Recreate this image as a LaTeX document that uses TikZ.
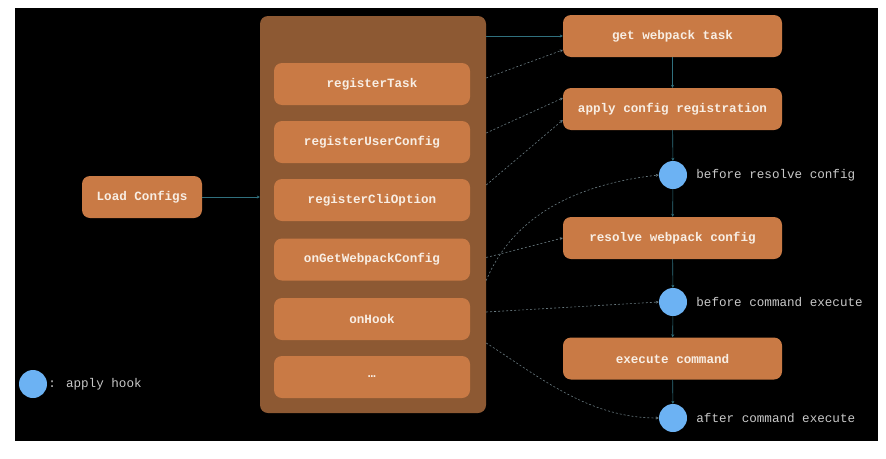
\documentclass[tikz,border=0pt]{standalone}
\usepackage{fontspec}
\usetikzlibrary{arrows.meta,calc}
\newfontfamily\codefont{Liberation Mono}
\definecolor{boxorange}{RGB}{201,122,69}
\definecolor{panelbrown}{RGB}{141,89,51}
\definecolor{hookblue}{RGB}{108,178,243}
\definecolor{flowteal}{RGB}{48,112,126}
\definecolor{dashgray}{RGB}{105,122,128}
\definecolor{labelgray}{RGB}{200,200,200}
\definecolor{boxtext}{RGB}{248,238,228}

\begin{document}
\begin{tikzpicture}[
    x=1pt,
    y=-1pt,
    every node/.style={font=\codefont\fontsize{12.6}{15}\selectfont},
    stepbox/.style={fill=boxorange, rounded corners=8pt, inner sep=0pt,
        minimum width=219pt, minimum height=42pt, text=boxtext,
        font=\codefont\bfseries\fontsize{12.6}{15}\selectfont},
    hook/.style={circle, fill=hookblue, minimum size=28pt, inner sep=0pt},
    hooklabel/.style={text=labelgray, anchor=west, inner sep=0pt},
    flow/.style={flowteal, line width=0.6pt, -{Stealth[length=3pt,width=3pt]}},
    hint/.style={dashgray, line width=0.6pt, dash pattern=on 2pt off 2pt,
        -{Stealth[length=3pt,width=3pt]}}
]

% Page and black board
\useasboundingbox (0,0) rectangle (886,458);
\fill[white] (0,0) rectangle (886,458);
\fill[black] (15,8) rectangle (878,441);

% Load Configs
\node[stepbox, minimum width=120pt] (load) at (142,197) {Load Configs};

% Panel with the registration methods
\node[fill=panelbrown, rounded corners=8pt, inner sep=0pt,
      minimum width=226pt, minimum height=397pt] (panel) at (373,214.5) {};

\foreach \name/\txt/\y in {task/registerTask/84, user/registerUserConfig/142,
        cli/registerCliOption/200, getcfg/onGetWebpackConfig/259.5,
        hook/onHook/319, more/…/377}{
    \node[stepbox, minimum width=196pt] (\name) at (372,\y) {\txt};
}

% Steps on the right
\foreach \name/\txt/\y in {gettask/get webpack task/36,
        applycfg/apply config registration/109,
        resolve/resolve webpack config/238,
        execute/execute command/358.5}{
    \node[stepbox] (\name) at (672.5,\y) {\txt};
}

% Hooks
\foreach \name/\txt/\y in {beforeresolve/before resolve config/175,
        beforeexec/before command execute/302,
        afterexec/after command execute/418}{
    \node[hook] (\name) at (673,\y) {};
    \node[hooklabel] (\name-label) at ([xshift=9pt]\name.east) {\txt};
}

% Legend
\node[hook] (legend) at (33,384) {};
\node[hooklabel] (legend-label) at ([xshift=1pt]legend.east) {: apply hook};

% Solid flow
\draw[flow] (load) -- (load -| panel.west);
\draw[flow] (panel.east |- gettask) -- (gettask.west);
\foreach \a/\b in {gettask/applycfg, applycfg/beforeresolve,
        beforeresolve/resolve, resolve/beforeexec,
        beforeexec/execute, execute/afterexec}{
    \draw[flow] (\a) -- (\b);
}

% Dashed hints from the panel
\draw[hint] ($(panel.east |- task)+(0,-6)$) -- ($(gettask.west)+(0,14)$);
\draw[hint] ($(panel.east |- user)+(0,-9)$) -- ($(applycfg.west)+(0,-11)$);
\draw[hint] ($(panel.east |- cli)+(0,-15)$) -- ($(applycfg.west)+(0,11)$);
\draw[hint] ($(panel.east |- getcfg)+(0,-2)$) -- (resolve.west);
\draw[hint] ($(panel.east |- getcfg)+(0,21)$)
      .. controls +(25,-60) and +(-90,10) .. (beforeresolve.west);
\draw[hint] ($(panel.east |- hook)+(0,-7)$) -- (beforeexec.west);
\draw[hint] ($(panel.east |- hook)+(0,24)$)
      .. controls +(55,35) and +(-70,0) .. (afterexec.west);

\end{tikzpicture}
\end{document}
